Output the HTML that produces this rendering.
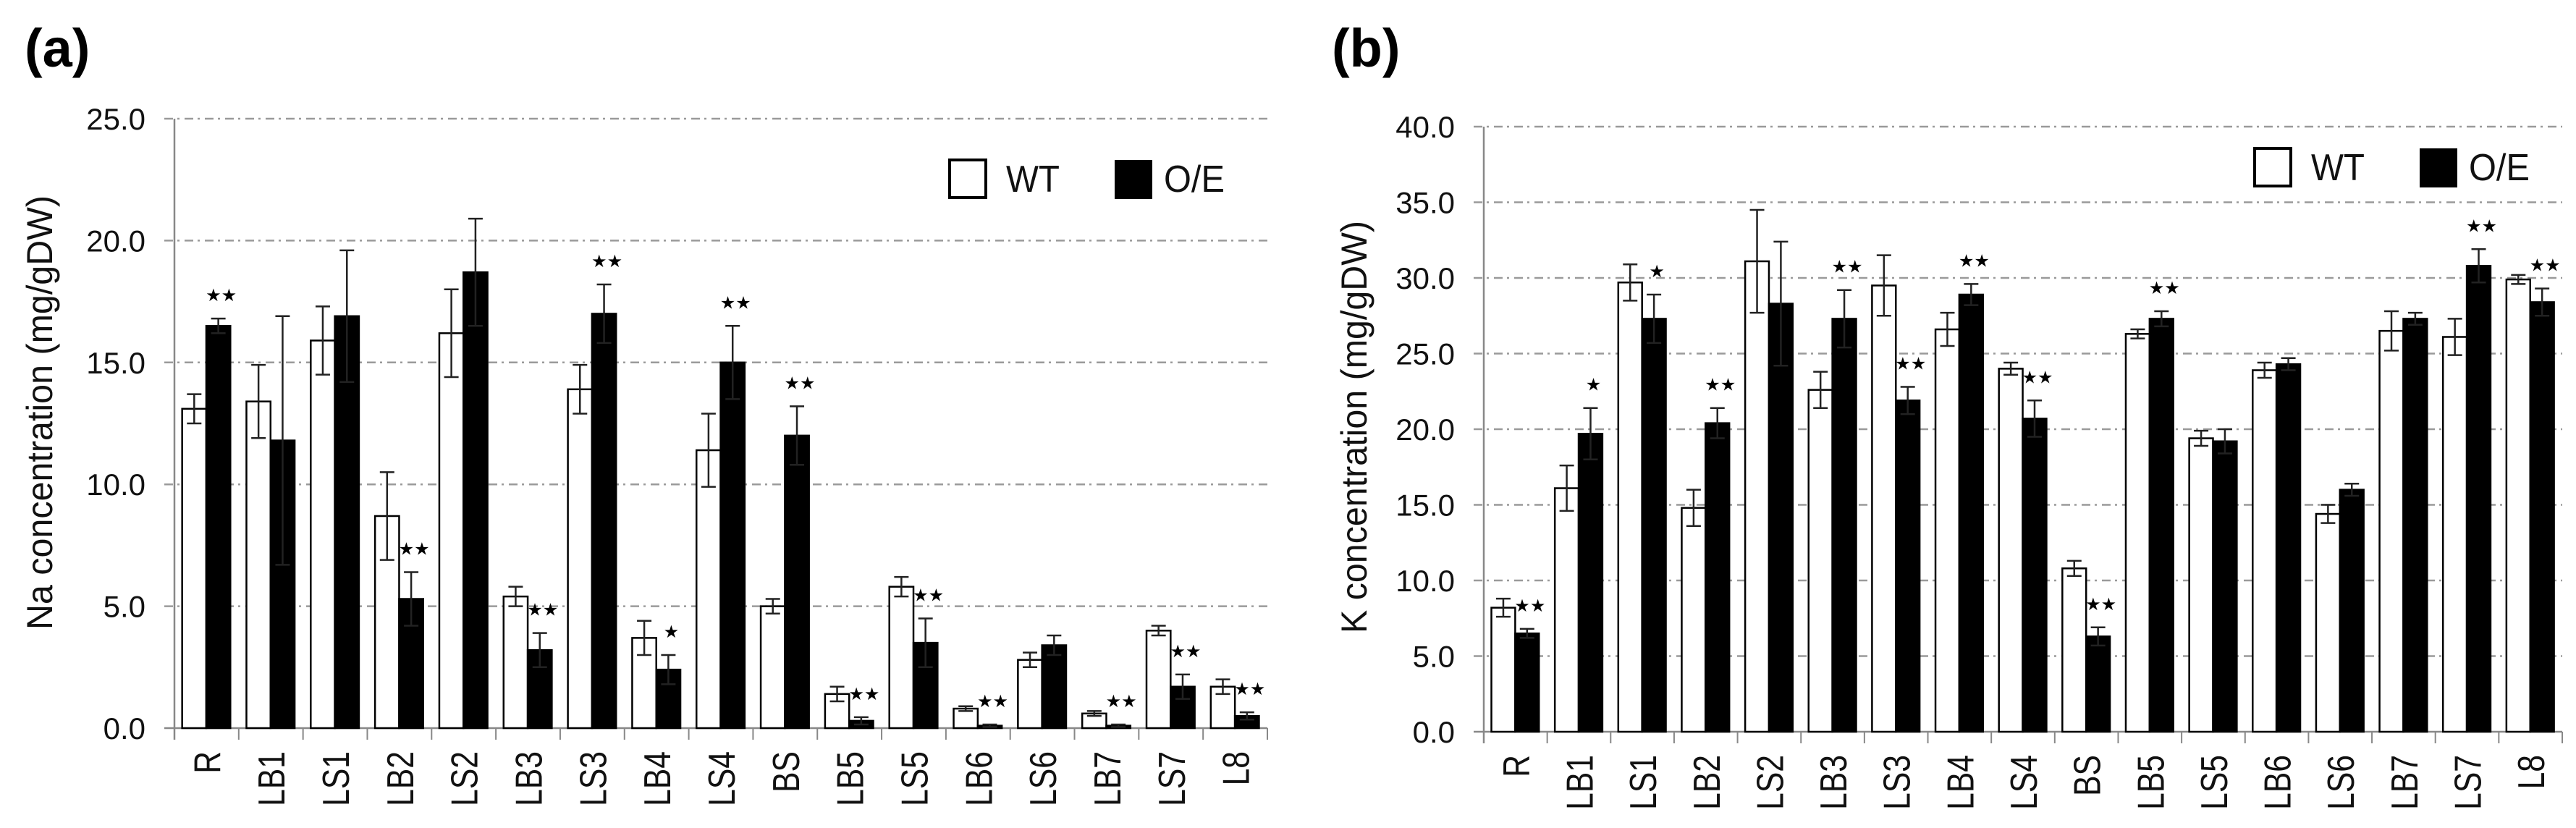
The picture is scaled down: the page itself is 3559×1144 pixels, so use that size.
<!DOCTYPE html>
<html><head><meta charset="utf-8">
<style>
html,body{margin:0;padding:0;background:#fff;}
svg{display:block;font-family:"Liberation Sans",Arial,sans-serif;}
</style></head>
<body>
<svg id="fig" width="3559" height="1144" viewBox="0 0 3559 1144" xmlns="http://www.w3.org/2000/svg">
<rect x="0" y="0" width="3559" height="1144" fill="#fff"/>
<text x="34" y="92" font-size="74" font-weight="bold">(a)</text>
<text x="1840" y="92" font-size="74" font-weight="bold">(b)</text>
</svg>
<script>
const categories = ["R","LB1","LS1","LB2","LS2","LB3","LS3","LB4","LS4","BS","LB5","LS5","LB6","LS6","LB7","LS7","L8"];
const naWT    = [13.1,13.4,15.9,8.7,16.2,5.4,13.9,3.7,11.4,5.0,1.4,5.8,0.8,2.8,0.6,4.0,1.7];
const naWTerr = [0.6,1.5,1.4,1.8,1.8,0.4,1.0,0.7,1.5,0.3,0.3,0.4,0.1,0.3,0.1,0.2,0.3];
const naOE    = [16.5,11.8,16.9,5.3,18.7,3.2,17.0,2.4,15.0,12.0,0.3,3.5,0.1,3.4,0.1,1.7,0.5];
const naOEerr = [0.3,5.1,2.7,1.1,2.2,0.7,1.2,0.6,1.5,1.2,0.15,1.0,0.05,0.4,0.05,0.5,0.15];
const naSig   = ["**","","","**","","**","**","*","**","**","**","**","**","","**","**","**"];
const kWT     = [8.2,16.1,29.7,14.8,31.1,22.6,29.5,26.6,24.0,10.8,26.3,19.4,23.9,14.4,26.5,26.1,29.9];
const kWTerr  = [0.6,1.5,1.2,1.2,3.4,1.2,2.0,1.1,0.4,0.5,0.3,0.5,0.5,0.6,1.3,1.2,0.3];
const kOE     = [6.5,19.7,27.3,20.4,28.3,27.3,21.9,28.9,20.7,6.3,27.3,19.2,24.3,16.0,27.3,30.8,28.4];
const kOEerr  = [0.3,1.7,1.6,1.0,4.1,1.9,0.9,0.7,1.2,0.6,0.5,0.8,0.4,0.4,0.4,1.1,0.9];
const kSig    = ["**","*","*","**","","**","**","**","**","**","**","","","","","**","**"];
const naTicks = [0,5,10,15,20,25];
const kTicks  = [0,5,10,15,20,25,30,35,40];

const NS = "http://www.w3.org/2000/svg";
const svg = document.getElementById("fig");
function mk(tag, attrs, parent){
  const e = document.createElementNS(NS, tag);
  for (const k in attrs) e.setAttribute(k, attrs[k]);
  (parent||svg).appendChild(e);
  return e;
}

function panel(p){
  const g = mk("g", {});
  
  
  const n = categories.length;
  const cw = (p.x1 - p.x0) / n;
  const y = v => p.yZero - (v / p.max) * (p.yZero - p.yTop);
  const xc = i => p.x0 + cw * i;
  // gridlines + tick labels
  p.ticks.forEach(t => {
    const yy = y(t);
    if (t > 0) {
      const gl = mk("line", {x1:p.x0-14, x2:p.x1, y1:yy, y2:yy, stroke:"#9a9a9a", "stroke-width":2.5, "stroke-dasharray":"12 6 3 7"}, g);
      
      
    } else {
      const tk = mk("line", {x1:p.x0-14, x2:p.x0, y1:yy, y2:yy, stroke:"#888", "stroke-width":2}, g);
      
      
    }
    const tl = mk("text", {x:p.x0-40, y:yy+15, "font-size":p.tickFont, "text-anchor":"end", fill:"#111"}, g);
    tl.textContent = t.toFixed(1);
    
    
  });
  // axes
  const ya = mk("line", {x1:p.x0, x2:p.x0, y1:p.yTop, y2:p.yZero+16, stroke:"#888", "stroke-width":2.5}, g);
  
  
  const xa = mk("line", {x1:p.x0-14, x2:p.x1, y1:p.yZero, y2:p.yZero, stroke:"#888", "stroke-width":2.5}, g);
  
  
  for (let i = 1; i <= n; i++) {
    const t = mk("line", {x1:xc(i), x2:xc(i), y1:p.yZero, y2:p.yZero+16, stroke:"#888", "stroke-width":2}, g);
    
    
  }
  // axis title
  const at = mk("text", {transform:`translate(${p.titleX},${p.titleY}) rotate(-90)`, "font-size":50, "text-anchor":"middle", textLength:p.titleLen, lengthAdjust:"spacingAndGlyphs", fill:"#111"}, g);
  at.textContent = p.title;
  
  
  const bw = cw * 0.375;
  for (let i = 0; i < n; i++) {
    const wx = xc(i) + cw * 0.12;
    const ox = wx + bw;
    const drawBar = (x, v, err, fill, name) => {
      const r = mk("rect", {x:x, y:y(v), width:bw, height:p.yZero - y(v), fill:fill, stroke:"#000", "stroke-width":2.5}, g);
      
      
      const cx = x + bw/2;
      const e = mk("path", {d:`M${cx-10},${y(v+err)}H${cx+10}M${cx},${y(v+err)}V${y(Math.max(0,v-err))}M${cx-10},${y(Math.max(0,v-err))}H${cx+10}`, stroke:"#222", "stroke-width":2.5, fill:"none"}, g);
      
      
    };
    drawBar(wx, p.wt[i], p.wtErr[i], "#fff", 'bar-wt-' + categories[i].toLowerCase());
    drawBar(ox, p.oe[i], p.oeErr[i], "#000", 'bar-oe-' + categories[i].toLowerCase());
    if (p.sig[i]) {
      const sy = y(p.oe[i] + p.oeErr[i]) - 24;
      const s = mk("text", {x:ox + bw/2 + 4, y:sy, "font-size":24, "text-anchor":"middle", fill:"#000", "font-family":"DejaVu Sans, sans-serif"}, g);
      s.textContent = p.sig[i] === "**" ? "\u2605\u2605" : "\u2605";
      
      
    }
    const cl = mk("text", {transform:`translate(${xc(i)+cw/2+19},${p.yZero+32}) rotate(-90) scale(0.82,1)`, "font-size":52, "text-anchor":"end", fill:"#111"}, g);
    cl.textContent = categories[i];
    
    
  }
  // legend
  const L = p.legend;
  const lw = mk("rect", {x:L.x, y:L.y, width:50, height:52, fill:"#fff", stroke:"#000", "stroke-width":4}, g);
  
  
  const lt = mk("text", {x:L.x+78, y:L.y+44, "font-size":52, textLength:74, lengthAdjust:"spacingAndGlyphs", fill:"#111"}, g);
  lt.textContent = "WT";
  
  
  const lo = mk("rect", {x:L.x+228, y:L.y, width:52, height:54, fill:"#000"}, g);
  
  
  const lot = mk("text", {x:L.x+296, y:L.y+44, "font-size":52, textLength:84, lengthAdjust:"spacingAndGlyphs", fill:"#111"}, g);
  lot.textContent = "O/E";
  
  
}

panel({id:"na", x0:241, x1:1751, yZero:1006, yTop:164, max:25, ticks:naTicks, tickFont:42,
  wt:naWT, wtErr:naWTerr, oe:naOE, oeErr:naOEerr, sig:naSig,
  title:"Na concentration (mg/gDW)", titleX:72, titleY:570, titleLen:600,
  legend:{x:1312, y:221}});
panel({id:"k", x0:2050, x1:3540, yZero:1011, yTop:175, max:40, ticks:kTicks, tickFont:42,
  wt:kWT, wtErr:kWTerr, oe:kOE, oeErr:kOEerr, sig:kSig,
  title:"K concentration (mg/gDW)", titleX:1888, titleY:590, titleLen:570,
  legend:{x:3115, y:205}});
</script>
</body></html>
